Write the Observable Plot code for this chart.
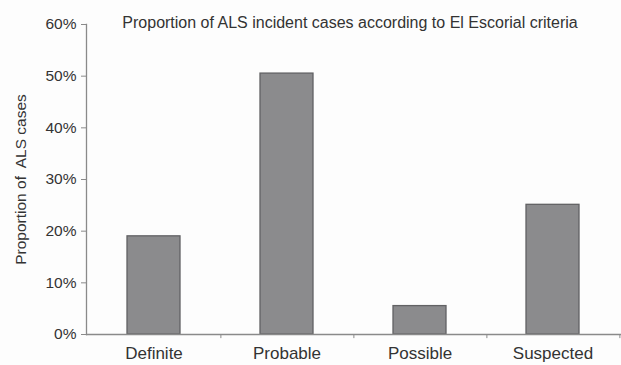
<!DOCTYPE html>
<html>
<head>
<meta charset="utf-8">
<script src="https://cdn.jsdelivr.net/npm/d3@7"></script>
<script src="https://cdn.jsdelivr.net/npm/@observablehq/plot@0.6"></script>
<style>
  html, body { margin: 0; padding: 0; background: #fdfdfd; }
  svg text { white-space: pre; }
</style>
</head>
<body>
<div id="chart"></div>
<script>
const categories = ["Definite", "Probable", "Possible", "Suspected"];
const proportions = [0.19, 0.505, 0.055, 0.251];
const yTicks = [0, 0.1, 0.2, 0.3, 0.4, 0.5, 0.6];
const titleText = "Proportion of ALS incident cases according to El Escorial criteria";
const yLabel = "Proportion of  ALS cases";

const data = categories.map((c, i) => ({category: c, value: proportions[i]}));

const W = 621, H = 365, ML = 86, MR = 0, MT = 24, MB = 31;
const step = (W - ML - MR) / categories.length;

const chart = Plot.plot({
  width: W,
  height: H,
  marginLeft: ML,
  marginRight: MR,
  marginTop: MT,
  marginBottom: MB,
  style: {background: "#fdfdfd", color: "#333333", fontFamily: "'Liberation Sans', Arial, sans-serif", fontSize: "15px", overflow: "visible"},
  x: {domain: categories, paddingInner: 0.6, paddingOuter: 0.3, align: 0.5},
  y: {domain: [0, 0.6]},
  marks: [
    Plot.frame({anchor: "left", stroke: "#8a8a8a", strokeWidth: 1.3}),
    Plot.barY(data, {x: "category", y: "value", fill: "#8b8b8d", stroke: "#626264", strokeWidth: 1.3}),
    Plot.ruleY([0], {stroke: "#8a8a8a", strokeWidth: 1.3}),
    Plot.ruleX(categories, {x: d => d, dx: step / 2, y1: 0, y2: -0.008, stroke: "#8a8a8a"}),
    Plot.axisY({ticks: yTicks, tickFormat: d3.format(".0%"), tickSize: 5, tickPadding: 5, stroke: "#8a8a8a",
      label: yLabel, labelAnchor: "center", labelArrow: "none", labelOffset: 72, fontSize: 15.5}),
    Plot.axisX({tickSize: 0, tickPadding: 12, label: null, fontSize: 17}),
    Plot.text([titleText], {text: d => d, frameAnchor: "top", dx: -4, dy: -8, fontSize: 16, fill: "#333333"})
  ]
});
document.getElementById("chart").appendChild(chart);
</script>
</body>
</html>
